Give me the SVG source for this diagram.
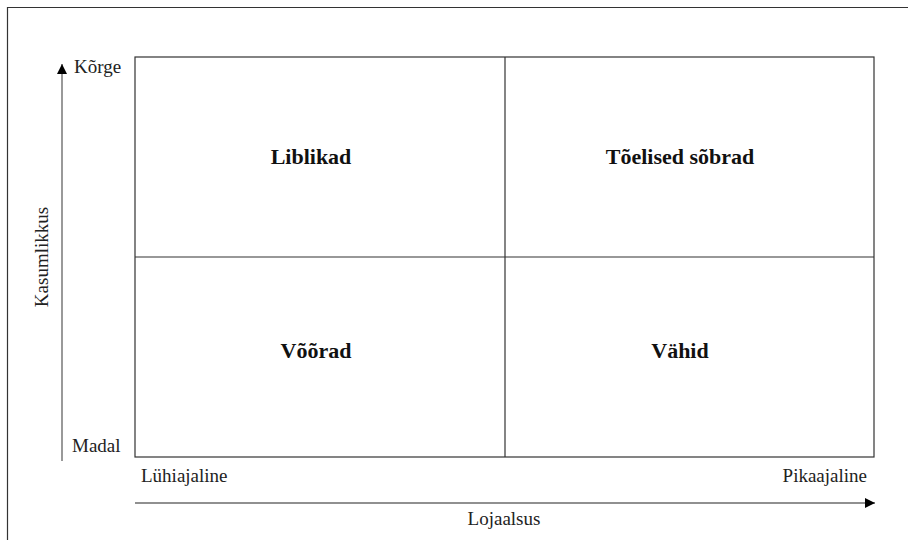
<svg xmlns="http://www.w3.org/2000/svg" width="908" height="540" viewBox="0 0 908 540">
<defs>
<marker id="ah" viewBox="0 0 10 10" refX="10" refY="5" markerWidth="10" markerHeight="10" markerUnits="userSpaceOnUse" orient="auto"><path d="M0,0 L10,5 L0,10 Z" fill="#000"/></marker>
<style>
.t{font-family:"Liberation Serif",serif;font-size:19px;fill:#222}
.b{font-family:"Liberation Serif",serif;font-size:22px;font-weight:bold;fill:#111;text-anchor:middle}
.g{fill:none;stroke:#333;stroke-width:1.2}
</style>
</defs>
<rect width="908" height="540" fill="#fff"/>
<path d="M7.5,540 V7.5 H908" fill="none" stroke="#333" stroke-width="1.2"/>
<g id="grid">
<rect class="g" x="135" y="57" width="739" height="400"/>
<line class="g" x1="505" y1="57" x2="505" y2="457"/>
<line class="g" x1="135" y1="257" x2="874" y2="257"/>
</g>
<g id="q1"><text class="b" x="311" y="164">Liblikad</text></g>
<g id="q2"><text class="b" x="680" y="164">Tõelised sõbrad</text></g>
<g id="q3"><text class="b" x="316" y="358">Võõrad</text></g>
<g id="q4"><text class="b" x="680" y="358">Vähid</text></g>
<g id="connectors">
<line x1="62" y1="461" x2="62" y2="64" stroke="#555" stroke-width="1.2" marker-end="url(#ah)"/>
<line x1="135" y1="503" x2="875" y2="503" stroke="#222" stroke-width="1.2" marker-end="url(#ah)"/>
</g>
<g id="labels">
<text class="t" x="74" y="73">Kõrge</text>
<text class="t" x="72" y="452">Madal</text>
<text class="t" x="141" y="482">Lühiajaline</text>
<text class="t" x="867" y="482" text-anchor="end">Pikaajaline</text>
<text class="t" x="504" y="525" text-anchor="middle">Lojaalsus</text>
<text class="t" transform="translate(48,257) rotate(-90)" text-anchor="middle">Kasumlikkus</text>
</g>
</svg>
